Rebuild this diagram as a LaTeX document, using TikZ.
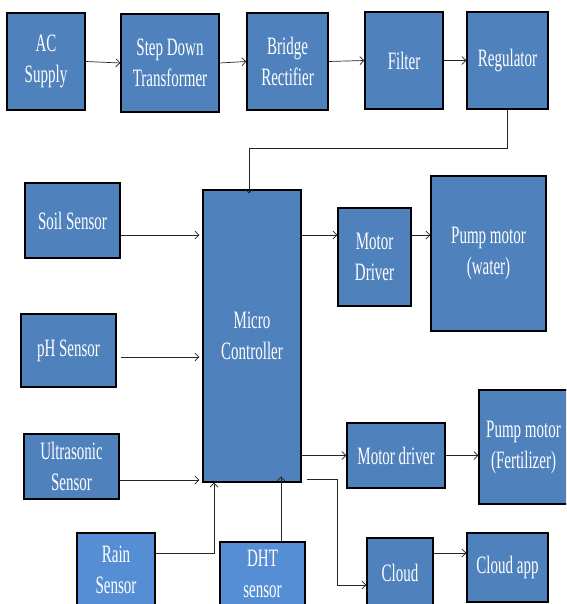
\documentclass[tikz,border=0pt]{standalone}
\usepackage{fontspec}
\setmainfont{Liberation Serif}[FakeStretch=0.6]
\usepackage{tikz}
\usetikzlibrary{arrows.meta}

\definecolor{boxblue}{HTML}{4F81BD}
\definecolor{lightblue}{HTML}{558ED5}

\begin{document}
\begin{tikzpicture}[x = 1pt, y = -1pt,
		block/.style = {draw = black, line width = 1.3pt, fill = boxblue, text = white, align = center,
			inner sep = 0pt, font = \fontsize{25}{31}\selectfont},
		arr/.style = {draw = black!85, line width = 0.7pt, -{Straight Barb[length = 4pt, width = 8pt]}}]
			\clip (0,0) rectangle (566,604);
			\fill[white] (0,0) rectangle (566,604);

			% power supply chain
			\begin{scope}
				\node [block, minimum width = 78pt, minimum height = 97pt] (ac) at (46,61.5) {AC\\Supply};
				\node [block, minimum width = 98pt, minimum height = 98pt] (step) at (170,63) {Step Down\\Transformer};
				\node [block, minimum width = 81pt, minimum height = 97pt] (bridge) at (287.5,61.5) {Bridge\\Rectifier};
				\node [block, minimum width = 78pt, minimum height = 97pt] (filter) at (404,60.5) {Filter};
				\node [block, minimum width = 81pt, minimum height = 97pt] (regulator) at (507.5,60.5) {Regulator};
			\end{scope}

			% sensors
			\begin{scope}
				\node [block, minimum width = 95pt, minimum height = 75pt] (soil) at (72.5,220.5) {Soil Sensor};
				\node [block, minimum width = 95pt, minimum height = 73pt] (ph) at (68.5,350.5) {pH Sensor};
				\node [block, minimum width = 95pt, minimum height = 65pt] (ultrasonic) at (71.5,466.5) {Ultrasonic\\Sensor};
				\node [block, fill = lightblue, minimum width = 78pt, minimum height = 74pt] (rain) at (116,570) {Rain\\Sensor};
				\node [block, fill = lightblue, minimum width = 85pt, minimum height = 64pt] (dht) at (262.5,574) {DHT\\sensor};
			\end{scope}

			% controller and outputs
			\begin{scope}
				\node [block, minimum width = 98pt, minimum height = 292pt] (micro) at (252,336) {Micro\\Controller};
				\node [block, minimum width = 73pt, minimum height = 98pt] (driverA) at (374.5,257) {Motor\\Driver};
				\node [block, minimum width = 115pt, minimum height = 155pt] (pumpwater) at (488.5,253.5) {Pump motor\\(water)};
				\node [block, minimum width = 98pt, minimum height = 65pt] (driverB) at (396,455.5) {Motor driver};
				\node [block, minimum width = 89pt, minimum height = 114pt] (pumpfert) at (523.5,447) {Pump motor\\(Fertilizer)};
				\node [block, minimum width = 66pt, minimum height = 70pt] (cloud) at (400,573) {Cloud};
				\node [block, minimum width = 81pt, minimum height = 69pt] (cloudapp) at (507.5,567.5) {Cloud app};
			\end{scope}

			\coordinate (cloudturn) at (337,479);

			\begin{scope}
				\draw [arr] (ac.east) -- (step.west);
				\draw [arr] (step.east) -- (bridge.west);
				\draw [arr] (bridge.east) -- (filter.west);
				\draw [arr] (filter.east) -- (regulator.west);
				\draw [arr] (regulator.south) -- ++(0,39) -| ([xshift = -3pt, yshift = -4pt]micro.north);

				\draw [arr] (soil.east |- 0,235) -- ([xshift = -3pt]micro.west |- 0,235);
				\draw [arr] ([xshift = 4pt]ph.east |- 0,357) -- ([xshift = -3pt]micro.west |- 0,357);
				\draw [arr] (ultrasonic.east |- 0,480) -- ([xshift = -3pt]micro.west |- 0,480);
				\draw [arr] (rain.east |- 0,553) -| ([xshift = -38pt]micro.south);
				\draw [arr] (dht.north -| 281,0) -- ([yshift = 6pt]micro.south -| 281,0);

				\draw [arr] (micro.east |- 0,235) -- (driverA.west |- 0,235);
				\draw [arr] (driverA.east |- 0,235) -- (pumpwater.west |- 0,235);
				\draw [arr] (micro.east |- driverB.west) -- (driverB.west);
				\draw [arr] (driverB.east) -- (pumpfert.west |- driverB.east);
				\draw [arr] ([xshift = 5pt]micro.east |- cloudturn) -- (cloudturn) |- (cloud.west |- 0,585);
				\draw [arr] (cloud.east |- 0,553) -- (cloudapp.west |- 0,553);
			\end{scope}
		\end{tikzpicture}
\end{document}
